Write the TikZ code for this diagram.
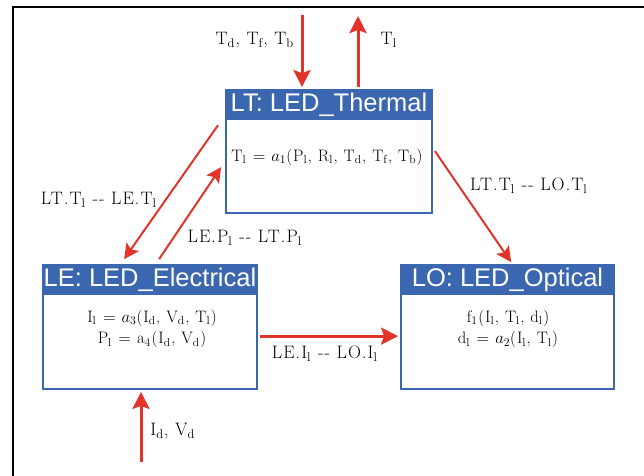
\documentclass[tikz,border=0pt]{standalone}
\usepackage{fix-cm}
\usepackage{fontspec}
\newfontfamily\hdfont{Liberation Sans}
\newfontfamily\lmsp{Latin Modern Roman}[LetterSpace=6]
\usetikzlibrary{arrows.meta,calc}
\definecolor{hblue}{RGB}{59,102,176}
\definecolor{ared}{RGB}{226,52,43}
\newcommand{\sbl}[1]{$_\mathrm{#1}$\kern0.6pt\relax}
\newcommand{\dd}{-\kern1pt-}
\tikzset{
  box/.style={draw=hblue, line width=1.8pt, inner sep=0pt, fill=white},
  hdr/.style={fill=hblue, text=white, font=\hdfont\fontsize{25.5}{28}\selectfont, inner sep=0pt, minimum height=31pt, anchor=north},
  mth/.style={font=\lmsp\fontsize{16.6}{21.5}\selectfont, inner sep=0pt, align=center},
  lbl/.style={font=\lmsp\fontsize{18}{20}\selectfont, inner sep=0pt},
  arr/.style={draw=ared, line width=3pt, -{Stealth[length=17pt,width=17pt,inset=3pt]}},
  arrthin/.style={draw=ared, line width=2pt, -{Stealth[length=15pt,width=15pt,inset=3pt]}},
  frame/.style={draw=black, line width=1.5pt}
}
\begin{document}
\begin{tikzpicture}[x=1pt,y=-1pt]
\useasboundingbox (0,0) rectangle (644,475);
\draw[frame] (13,476) -- (13,7) -- (645,7);

% boxes
\node[box, minimum width=206pt, minimum height=123pt] (LT) at (329,151.5) {};
\node[hdr, minimum width=207.8pt] (LTh) at (LT.north) {LT: LED\_Thermal};
\node[box, minimum width=214pt, minimum height=124pt] (LE) at (150,327) {};
\node[hdr, minimum width=215.8pt] (LEh) at (LE.north) {LE: LED\_Electrical};
\node[box, minimum width=213pt, minimum height=124pt] (LO) at (507.5,327) {};
\node[hdr, minimum width=214.8pt] (LOh) at (LO.north) {LO: LED\_Optical};

% body texts
\node[mth] (LTt) at (327,157) {T\sbl{l} $=$ $a_1$(P\sbl{l}, R\sbl{l}, T\sbl{d}, T\sbl{f}, T\sbl{b})};
\node[mth] (LEt) at (152,329) {I\sbl{l} $=$ $a_3$(I\sbl{d}, V\sbl{d}, T\sbl{l})\\P\sbl{l} $=$ a\sbl{4}(I\sbl{d}, V\sbl{d})};
\node[mth] (LOt) at (508,329) {f\sbl{1}(I\sbl{l}, T\sbl{l}, d\sbl{l})\\d\sbl{l} $=$ $a_2$(I\sbl{l}, T\sbl{l})};

% free ends
\coordinate (inT) at (302,15);
\coordinate (outT) at (358,16);
\coordinate (inE) at (141,462);

% connectors
\draw[arr] (inT) -- ($(LT.north)+(-27,-2)$);
\draw[arr] ($(LT.north)+(29,-2)$) -- (outT);
\draw[arrthin] ($(LT.north west)+(-7,36)$) -- ($(LE.north west)+(82,-5)$);
\draw[arrthin] ($(LE.north west)+(117,-5)$) -- ($(LT.north west)+(-4,78)$);
\draw[arrthin] ($(LT.north east)+(2,62)$) -- ($(LO.north west)+(111,-2)$);
\draw[arr] ($(LE.north east)+(2,72)$) -- ($(LO.north west)+(-2,72)$);
\draw[arr] (inE) -- ($(LE.south)+(-9,2)$);

% labels
\node[lbl] (l1) at (255,40) {T\sbl{d}, T\sbl{f}, T\sbl{b}};
\node[lbl] (l2) at (389,40) {T\sbl{l}};
\node[lbl] (l3) at (99,200) {LT.T\sbl{l} \dd{} LE.T\sbl{l}};
\node[lbl] (l4) at (245,238) {LE.P\sbl{l} \dd{} LT.P\sbl{l}};
\node[lbl] (l5) at (529,186) {LT.T\sbl{l} \dd{} LO.T\sbl{l}};
\node[lbl] (l6) at (325,354) {LE.I\sbl{l} \dd{} LO.I\sbl{l}};
\node[lbl] (l7) at (173,431) {I\sbl{d}, V\sbl{d}};
\end{tikzpicture}
\end{document}
